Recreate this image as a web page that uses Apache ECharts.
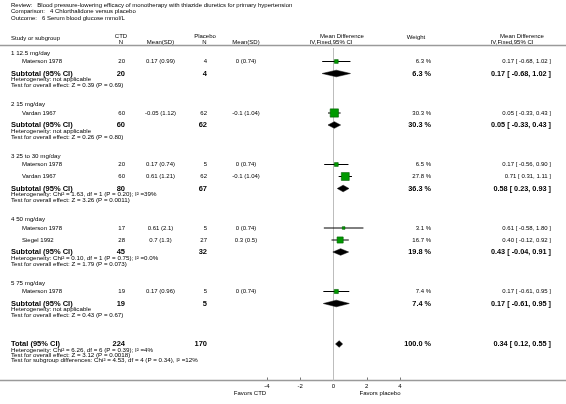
<!DOCTYPE html>
<html><head><meta charset="utf-8">
<script src="https://cdn.jsdelivr.net/npm/echarts@6/dist/echarts.min.js"></script>
<style>html,body{margin:0;padding:0;background:#fff}#c{width:566px;height:404px}</style>
</head><body><div id="c"></div>
<script>
// ---------------- DATA ----------------
const titleLines = [
  "Review:   Blood pressure-lowering efficacy of monotherapy with thiazide diuretics for primary hypertension",
  "Comparison:   4 Chlorthalidone versus placebo",
  "Outcome:   6 Serum blood glucose mmol/L"
];
const groupLabels = ["1 12.5 mg/day", "2 15 mg/day", "3 25 to 30 mg/day", "4 50 mg/day", "5 75 mg/day"];
const studyGroup = [0, 1, 2, 2, 3, 3, 4];
const studyNames = ["Materson 1978", "Vardan 1967", "Materson 1978", "Vardan 1967", "Materson 1978", "Siegel 1992", "Materson 1978"];
const ctdN = [20, 60, 20, 60, 17, 28, 19];
const ctdMeanSD = ["0.17 (0.99)", "-0.05 (1.12)", "0.17 (0.74)", "0.61 (1.21)", "0.61 (2.1)", "0.7 (1.3)", "0.17 (0.96)"];
const plaN = [4, 62, 5, 62, 5, 27, 5];
const plaMeanSD = ["0 (0.74)", "-0.1 (1.04)", "0 (0.74)", "-0.1 (1.04)", "0 (0.74)", "0.3 (0.5)", "0 (0.74)"];
const studyWeight = [6.3, 30.3, 6.5, 27.8, 3.1, 16.7, 7.4];
const studyMD = [0.17, 0.05, 0.17, 0.71, 0.61, 0.40, 0.17];
const studyLo = [-0.68, -0.33, -0.56, 0.31, -0.58, -0.12, -0.61];
const studyHi = [1.02, 0.43, 0.90, 1.11, 1.80, 0.92, 0.95];
const subCtdN = [20, 60, 80, 45, 19];
const subPlaN = [4, 62, 67, 32, 5];
const subWeight = [6.3, 30.3, 36.3, 19.8, 7.4];
const subMD = [0.17, 0.05, 0.58, 0.43, 0.17];
const subLo = [-0.68, -0.33, 0.23, -0.04, -0.61];
const subHi = [1.02, 0.43, 0.93, 0.91, 0.95];
const subHet = [
  "Heterogeneity: not applicable",
  "Heterogeneity: not applicable",
  "Heterogeneity: Chi² = 1.63, df = 1 (P = 0.20); I² =39%",
  "Heterogeneity: Chi² = 0.10, df = 1 (P = 0.75); I² =0.0%",
  "Heterogeneity: not applicable"
];
const subTest = [
  "Test for overall effect: Z = 0.39 (P = 0.69)",
  "Test for overall effect: Z = 0.26 (P = 0.80)",
  "Test for overall effect: Z = 3.26 (P = 0.0011)",
  "Test for overall effect: Z = 1.79 (P = 0.073)",
  "Test for overall effect: Z = 0.43 (P = 0.67)"
];
const totalCtdN = 224, totalPlaN = 170, totalWeight = 100.0;
const totalMD = 0.34, totalLo = 0.12, totalHi = 0.55;
const totalNotes = [
  "Heterogeneity: Chi² = 6.26, df = 6 (P = 0.39); I² =4%",
  "Test for overall effect: Z = 3.12 (P = 0.0018)",
  "Test for subgroup differences: Chi² = 4.53, df = 4 (P = 0.34), I² =12%"
];
const axisMin = -4, axisMax = 4, axisStep = 2;
const favorsLeft = "Favors CTD", favorsRight = "Favors placebo";

// ---------------- LAYOUT ----------------
const FONT = '"Liberation Sans", Arial, Helvetica, sans-serif';
const TOP = 47, AXIS_Y = 380.5;
const COL = { grp: 11, study: 22, ctdN: 125, ctdMSD: 160.5, plaN: 207, plaMSD: 246, weight: 431, md: 551 };
const rows = [];
let yy = 53;
groupLabels.forEach((g, gi) => {
  rows.push({ type: 'label', y: yy, text: g });
  yy += 8.5;
  studyNames.forEach((n, i) => {
    if (studyGroup[i] !== gi) return;
    rows.push({ type: 'study', y: yy, i });
    yy += 12;
  });
  rows.push({ type: 'sub', y: yy, g: gi });
  rows.push({ type: 'note', y: yy + 6, text: subHet[gi] });
  rows.push({ type: 'note', y: yy + 12, text: subTest[gi] });
  yy += 12 + 19;
});
yy = yy - 19 + 28.5;
rows.push({ type: 'total', y: yy });
totalNotes.forEach((t, k) => rows.push({ type: 'note', y: yy + 6 + k * 5.2, text: t }));

const fmt = v => v.toFixed(2);
const ciText = (m, l, h) => fmt(m) + ' [ ' + fmt(l) + ', ' + fmt(h) + ' ]';

function txt(x, y, s, o) {
  o = o || {};
  return { type: 'text', style: { text: s, x: x, y: y, fill: o.fill || '#000', fontSize: o.size || 6, fontFamily: FONT,
    fontWeight: o.bold ? 'bold' : 'normal', align: o.align || 'left', verticalAlign: 'middle' } };
}
function diamond(api, m, l, h, y, hh) {
  const pl = api.coord([l, y]), pm = api.coord([m, y]), ph = api.coord([h, y]);
  return { type: 'polygon', shape: { points: [[pl[0], pl[1]], [pm[0], pm[1] - hh], [ph[0], ph[1]], [pm[0], pm[1] + hh]] },
    style: { fill: '#000', stroke: '#000', lineWidth: 0.5 } };
}

function renderRow(params, api) {
  const r = rows[api.value(2)];
  const y = api.value(1);
  const py = api.coord([0, y])[1];
  const ch = [];
  if (r.type === 'label') {
    ch.push(txt(COL.grp, py, r.text, { size: 6.2 }));
  } else if (r.type === 'note') {
    ch.push(txt(COL.grp, py, r.text, { size: 6.2 }));
  } else if (r.type === 'study') {
    const i = r.i;
    ch.push(txt(COL.study, py, studyNames[i]));
    ch.push(txt(COL.ctdN, py, String(ctdN[i]), { align: 'right' }));
    ch.push(txt(COL.ctdMSD, py, ctdMeanSD[i], { align: 'center' }));
    ch.push(txt(COL.plaN, py, String(plaN[i]), { align: 'right' }));
    ch.push(txt(COL.plaMSD, py, plaMeanSD[i], { align: 'center' }));
    ch.push(txt(COL.weight, py, studyWeight[i].toFixed(1) + ' %', { align: 'right' }));
    ch.push(txt(COL.md, py, ciText(studyMD[i], studyLo[i], studyHi[i]), { align: 'right' }));
    const pl = api.coord([studyLo[i], y]), ph = api.coord([studyHi[i], y]), pm = api.coord([studyMD[i], y]);
    ch.push({ type: 'line', shape: { x1: pl[0], y1: pl[1], x2: ph[0], y2: ph[1] }, style: { stroke: '#000', lineWidth: 1 } });
    const s = 1.5 * Math.sqrt(studyWeight[i]);
    ch.push({ type: 'rect', shape: { x: pm[0] - s / 2, y: pm[1] - s / 2, width: s, height: s },
      style: { fill: '#009a00', stroke: '#006000', lineWidth: 0.6 } });
  } else if (r.type === 'sub') {
    const g = r.g;
    ch.push(txt(COL.grp, py, 'Subtotal (95% CI)', { bold: true, size: 7.5 }));
    ch.push(txt(COL.ctdN, py, String(subCtdN[g]), { bold: true, size: 7.5, align: 'right' }));
    ch.push(txt(COL.plaN, py, String(subPlaN[g]), { bold: true, size: 7.5, align: 'right' }));
    ch.push(txt(COL.weight, py, subWeight[g].toFixed(1) + ' %', { bold: true, size: 7.3, align: 'right' }));
    ch.push(txt(COL.md, py, ciText(subMD[g], subLo[g], subHi[g]), { bold: true, size: 7.3, align: 'right' }));
    ch.push(diamond(api, subMD[g], subLo[g], subHi[g], y, 3.3));
  } else if (r.type === 'total') {
    ch.push(txt(COL.grp, py, 'Total (95% CI)', { bold: true, size: 7.5 }));
    ch.push(txt(COL.ctdN, py, String(totalCtdN), { bold: true, size: 7.5, align: 'right' }));
    ch.push(txt(COL.plaN, py, String(totalPlaN), { bold: true, size: 7.5, align: 'right' }));
    ch.push(txt(COL.weight, py, totalWeight.toFixed(1) + ' %', { bold: true, size: 7.3, align: 'right' }));
    ch.push(txt(COL.md, py, ciText(totalMD, totalLo, totalHi), { bold: true, size: 7.3, align: 'right' }));
    ch.push(diamond(api, totalMD, totalLo, totalHi, y, 3.3));
  }
  return { type: 'group', children: ch };
}

const chart = echarts.init(document.getElementById('c'), null, { renderer: 'canvas' });
const hdr = [];
titleLines.forEach((t, k) => hdr.push({ type: 'text', left: 11, top: 2 + k * 6.5, style: { text: t, fontSize: 6, fontFamily: FONT, fill: '#000' } }));
function htxt(x, y, s, align) {
  return { type: 'text', x: x, y: y, style: { text: s, fontSize: 6, fontFamily: FONT, fill: '#000', align: align || 'left', verticalAlign: 'middle' } };
}
hdr.push(htxt(11, 38.5, 'Study or subgroup'));
hdr.push(htxt(121, 36, 'CTD', 'center'));
hdr.push(htxt(121, 42, 'N', 'center'));
hdr.push(htxt(160.5, 42, 'Mean(SD)', 'center'));
hdr.push(htxt(205, 36, 'Placebo', 'center'));
hdr.push(htxt(204.5, 42, 'N', 'center'));
hdr.push(htxt(246, 42, 'Mean(SD)', 'center'));
hdr.push(htxt(342, 36, 'Mean Difference', 'center'));
hdr.push(htxt(331, 42, 'IV,Fixed,95% CI', 'center'));
hdr.push(htxt(416, 37, 'Weight', 'center'));
hdr.push(htxt(522, 36, 'Mean Difference', 'center'));
hdr.push(htxt(512, 42, 'IV,Fixed,95% CI', 'center'));
hdr.push({ type: 'line', shape: { x1: 0, y1: 45.5, x2: 566, y2: 45.5 }, style: { stroke: '#9a9a9a', lineWidth: 1.6 } });
hdr.push({ type: 'line', shape: { x1: 0, y1: AXIS_Y, x2: 566, y2: AXIS_Y }, style: { stroke: '#9a9a9a', lineWidth: 1.6 }, z: 1 });
hdr.push(htxt(250, 393, favorsLeft, 'center'));
hdr.push(htxt(380, 393, favorsRight, 'center'));

chart.setOption({
  animation: false,
  backgroundColor: '#fff',
  graphic: hdr,
  grid: { left: 267, right: 566 - 400, top: TOP, bottom: 404 - AXIS_Y, containLabel: false },
  xAxis: {
    type: 'value', min: axisMin, max: axisMax, interval: axisStep, position: 'bottom',
    axisLine: { show: false },
    axisTick: { show: true, inside: true, length: 3, lineStyle: { color: '#777', width: 1 } },
    axisLabel: { fontSize: 6, fontFamily: FONT, color: '#000', margin: 3 },
    splitLine: { show: false }
  },
  yAxis: { type: 'value', min: TOP, max: AXIS_Y, inverse: true, show: false },
  series: [
    {
      type: 'custom', name: 'zero', clip: false, silent: true,
      data: [[0, TOP, 0]],
      renderItem: function (params, api) {
        const a = api.coord([0, TOP + 1]), b = api.coord([0, AXIS_Y]);
        return { type: 'line', shape: { x1: a[0], y1: a[1], x2: b[0], y2: b[1] }, style: { stroke: '#bdbdbd', lineWidth: 1 } };
      }
    },
    {
      type: 'custom', name: 'rows', clip: false, silent: true,
      data: rows.map((r, i) => [0, r.y, i]),
      renderItem: renderRow
    }
  ]
});
</script>
</body></html>
